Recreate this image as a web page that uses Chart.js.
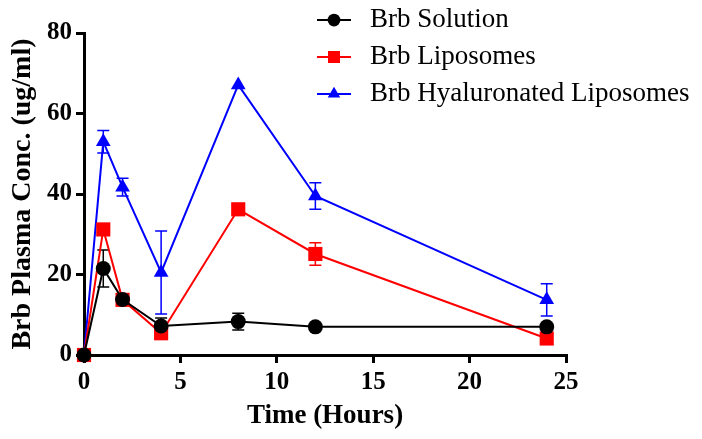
<!DOCTYPE html>
<html>
<head>
<meta charset="utf-8">
<script src="https://cdn.jsdelivr.net/npm/chart.js@4.4.1/dist/chart.umd.min.js"></script>
<style>
  html, body { margin: 0; padding: 0; background: #fff; }
  #wrap { width: 702px; height: 439px; }
</style>
</head>
<body>
<div id="wrap"><canvas id="pkChart" width="702" height="439"></canvas></div>
<script>
'use strict';

// Time points (hours)
const timeHours = [0, 1, 2, 4, 8, 12, 24];

// Mean plasma concentration (ug/ml)
const solutionMean = [0, 21.5, 13.8, 7.2, 8.3, 7.0, 7.0];
const liposomesMean = [0, 31.2, 13.7, 5.4, 36.2, 25.1, 4.1];
const hyaluronatedMean = [0, 53.0, 41.7, 20.5, 67.1, 39.5, 13.7];

// Error (SD) values
const solutionErr = [0, 4.6, 0.8, 2.0, 2.1, 0, 0];
const liposomesErr = [0, 0, 0, 0, 0, 2.8, 0];
const hyaluronatedErr = [0, 2.8, 2.2, 10.3, 0, 3.3, 4.0];

const seriesNames = ['Brb Solution', 'Brb Liposomes', 'Brb Hyaluronated Liposomes'];
const seriesColors = ['#000000', '#ff0000', '#0000ff'];
const seriesMarkers = ['circle', 'rect', 'triangle'];
const markerRadius = [7.5, 10, 8.5];

const xTicks = [0, 5, 10, 15, 20, 25];
const yTicks = [0, 20, 40, 60, 80];

const serif = "'Liberation Serif', 'Times New Roman', serif";

function toPoints(values) {
    return timeHours.map(function(t, i) {
        return { x: t, y: values[i] };
    });
}

const means = [solutionMean, liposomesMean, hyaluronatedMean];
const errors = [solutionErr, liposomesErr, hyaluronatedErr];

const datasets = means.map(function(values, i) {
    return {
        label: seriesNames[i],
        data: toPoints(values),
        errors: errors[i],
        borderColor: seriesColors[i],
        backgroundColor: seriesColors[i],
        borderWidth: 2,
        pointStyle: seriesMarkers[i],
        pointRadius: markerRadius[i],
        pointHoverRadius: markerRadius[i],
        pointBorderWidth: 0,
        tension: 0,
        clip: false
    };
});

// Error bars drawn under the markers
const errorBarPlugin = {
    id: 'errorBars',
    beforeDatasetsDraw: function(chart) {
        const ctx = chart.ctx;
        const xs = chart.scales.x;
        const ys = chart.scales.y;
        chart.data.datasets.forEach(function(ds) {
            ctx.save();
            ctx.strokeStyle = ds.borderColor;
            ctx.lineWidth = 1.5;
            ds.data.forEach(function(p, i) {
                const e = ds.errors[i];
                if (!e) return;
                const px = xs.getPixelForValue(p.x);
                const top = ys.getPixelForValue(p.y + e);
                const bot = ys.getPixelForValue(p.y - e);
                ctx.beginPath();
                ctx.moveTo(px, top);
                ctx.lineTo(px, bot);
                ctx.moveTo(px - 6, top);
                ctx.lineTo(px + 6, top);
                ctx.moveTo(px - 6, bot);
                ctx.lineTo(px + 6, bot);
                ctx.stroke();
            });
            ctx.restore();
        });
    }
};

// Legend with line through marker, top right
const legendPlugin = {
    id: 'lineLegend',
    afterDraw: function(chart) {
        const ctx = chart.ctx;
        const x0 = 317, x1 = 351, textX = 370;
        const rowY = [20, 57, 94];
        ctx.save();
        chart.data.datasets.forEach(function(ds, i) {
            const y = rowY[i];
            ctx.strokeStyle = ds.borderColor;
            ctx.lineWidth = 2;
            ctx.beginPath();
            ctx.moveTo(x0, y);
            ctx.lineTo(x1, y);
            ctx.stroke();
            ctx.fillStyle = ds.backgroundColor;
            Chart.helpers.drawPoint(ctx, {
                pointStyle: ds.pointStyle,
                radius: ds.pointRadius * 0.85,
                rotation: 0,
                borderWidth: 0
            }, (x0 + x1) / 2, y);
            ctx.fillStyle = '#000';
            ctx.font = '27px ' + serif;
            ctx.textBaseline = 'middle';
            ctx.textAlign = 'left';
            ctx.fillText(ds.label, textX, y);
        });
        ctx.restore();
    }
};

new Chart(document.getElementById('pkChart').getContext('2d'), {
    type: 'line',
    data: { datasets: datasets },
    plugins: [errorBarPlugin, legendPlugin],
    options: {
        responsive: false,
        animation: false,
        layout: { padding: { left: 0, top: 33, right: 136, bottom: 0 } },
        plugins: {
            legend: { display: false },
            tooltip: { enabled: false }
        },
        scales: {
            x: {
                type: 'linear',
                min: 0,
                max: 25,
                afterBuildTicks: function(scale) {
                    scale.ticks = xTicks.map(function(v) { return { value: v }; });
                },
                afterFit: function(scale) { scale.height = 84; },
                border: { display: true, color: '#000', width: 3 },
                grid: {
                    display: true,
                    drawOnChartArea: false,
                    drawTicks: true,
                    tickLength: 8,
                    color: '#000',
                    lineWidth: 3
                },
                ticks: {
                    color: '#000',
                    padding: 5,
                    font: { family: serif, size: 25, weight: 'bold' }
                },
                title: {
                    display: true,
                    text: 'Time (Hours)',
                    color: '#000',
                    padding: { top: 0, bottom: 7 },
                    font: { family: serif, size: 27, weight: 'bold' }
                }
            },
            y: {
                type: 'linear',
                min: 0,
                max: 80,
                afterBuildTicks: function(scale) {
                    scale.ticks = yTicks.map(function(v) { return { value: v }; });
                },
                afterFit: function(scale) { scale.width = 84; },
                border: { display: true, color: '#000', width: 3 },
                grid: {
                    display: true,
                    drawOnChartArea: false,
                    drawTicks: true,
                    tickLength: 8,
                    color: '#000',
                    lineWidth: 3
                },
                ticks: {
                    color: '#000',
                    padding: 4,
                    font: { family: serif, size: 25, weight: 'bold' }
                },
                title: {
                    display: true,
                    text: 'Brb Plasma Conc. (ug/ml)',
                    color: '#000',
                    padding: { top: 6, bottom: 0 },
                    font: { family: serif, size: 28, weight: 'bold' }
                }
            }
        }
    }
});
</script>
</body>
</html>
